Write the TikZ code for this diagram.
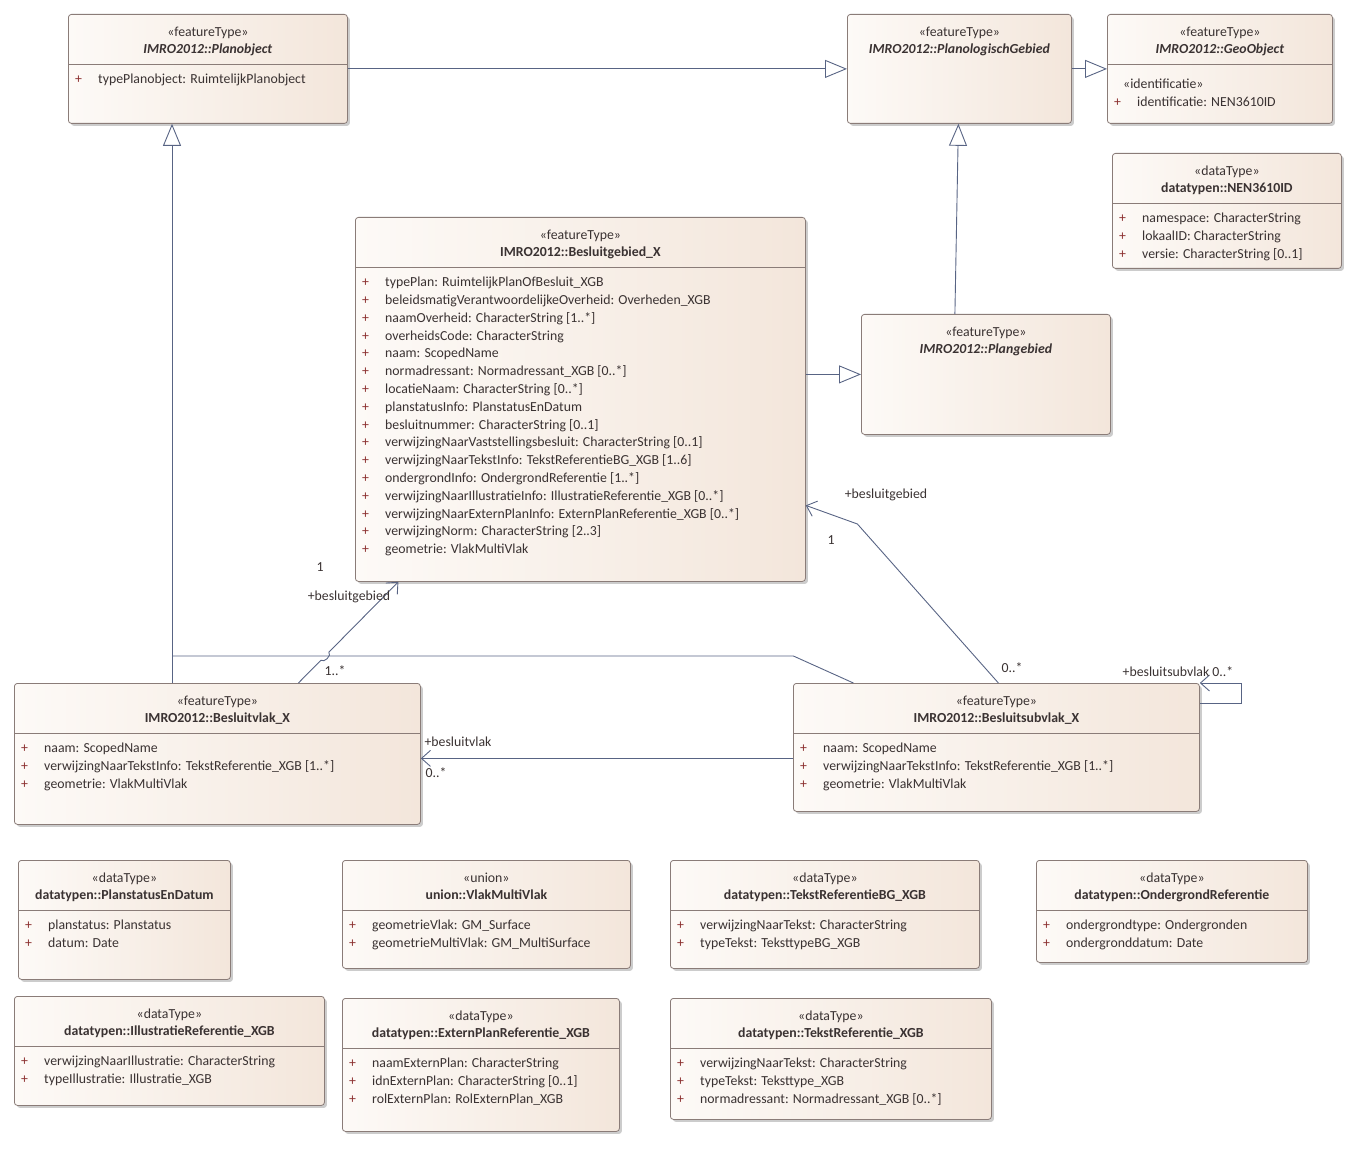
\documentclass[tikz,border=0pt]{standalone}
\usepackage{fontspec}
\usepackage{array}
\setmainfont{Carlito}
\usetikzlibrary{arrows.meta,shadows,calc}

\definecolor{umlborder}{RGB}{138,124,120}
\definecolor{umlfillA}{RGB}{253,250,247}
\definecolor{umlfillB}{RGB}{243,230,219}
\definecolor{umlline}{RGB}{88,100,132}
\definecolor{umltext}{RGB}{58,50,50}
\definecolor{umlplus}{RGB}{140,48,48}

\tikzset{
  umlbox/.style={draw=umlborder, line width=0.8pt, rounded corners=3pt, inner sep=0pt,
    anchor=north west, left color=umlfillA, right color=umlfillB,
    drop shadow={shadow xshift=2.5pt, shadow yshift=-2.5pt, fill=black!40, opacity=0.5}},
  umltitle/.style={anchor=north, inner sep=0pt, text=umltext},
  umlattr/.style={anchor=north west, inner sep=0pt, text=umltext},
  umlgen/.style={draw=umlline, line width=0.9pt, -{Triangle[open,length=22pt,width=18pt,fill=white]}},
  umlassoc/.style={draw=umlline, line width=0.9pt, -{Straight Barb[length=9pt,width=16pt]}},
  umlplain/.style={draw=umlline, line width=0.9pt},
  umllabel/.style={inner sep=0pt, text=umltext},
}

\newcommand\umlclass[7]{%
  \node[umlbox, minimum width=#3pt, minimum height=#4pt] (#1) at (#2) {};
  \node[umltitle] (#1-title) at ([yshift=-9.5pt]#1.north)
    {\begin{tabular}{@{}c@{}}«#5»\\ \textbf{#6}\end{tabular}};
  \def\umlattrs{#7}%
  \ifx\umlattrs\empty\else
    \draw[umlborder, line width=0.8pt] ([yshift=-50pt]#1.north west) -- ([yshift=-50pt]#1.north east);
    \node[umlattr] (#1-attrs) at ([xshift=7pt,yshift=-57pt]#1.north west)
      {\begin{tabular}{@{}>{\color{umlplus}}w{l}{23pt}@{}l@{}}#7\end{tabular}};
  \fi
}

\begin{document}
\begin{tikzpicture}[x=1pt, y=-1pt, font=\fontsize{13.8}{17.8}\selectfont]
  \useasboundingbox (0,0) rectangle (1360,1174);

  \umlclass{planobject}{68,14}{279}{109}{featureType}{\textit{IMRO2012::Planobject}}
    {+ & typePlanobject: RuimtelijkPlanobject}
  \umlclass{planologisch}{847,14}{224}{109}{featureType}{\textit{IMRO2012::PlanologischGebied}}{}
  \umlclass{geoobject}{1107,14}{225}{109}{featureType}{\textit{IMRO2012::GeoObject}}
    {\noalign{\vskip5pt}\multicolumn{2}{@{\hspace{9pt}}l@{}}{«identificatie»}\\
     + & identificatie: NEN3610ID}
  \umlclass{nen3610id}{1112,153}{229}{115}{dataType}{datatypen::NEN3610ID}
    {+ & namespace: CharacterString\\
     + & lokaalID: CharacterString\\
     + & versie: CharacterString [0..1]}
  \umlclass{besluitgebied}{355,217}{450}{364}{featureType}{IMRO2012::Besluitgebied\_X}
    {+ & typePlan: RuimtelijkPlanOfBesluit\_XGB\\
     + & beleidsmatigVerantwoordelijkeOverheid: Overheden\_XGB\\
     + & naamOverheid: CharacterString [1..*]\\
     + & overheidsCode: CharacterString\\
     + & naam: ScopedName\\
     + & normadressant: Normadressant\_XGB [0..*]\\
     + & locatieNaam: CharacterString [0..*]\\
     + & planstatusInfo: PlanstatusEnDatum\\
     + & besluitnummer: CharacterString [0..1]\\
     + & verwijzingNaarVaststellingsbesluit: CharacterString [0..1]\\
     + & verwijzingNaarTekstInfo: TekstReferentieBG\_XGB [1..6]\\
     + & ondergrondInfo: OndergrondReferentie [1..*]\\
     + & verwijzingNaarIllustratieInfo: IllustratieReferentie\_XGB [0..*]\\
     + & verwijzingNaarExternPlanInfo: ExternPlanReferentie\_XGB [0..*]\\
     + & verwijzingNorm: CharacterString [2..3]\\
     + & geometrie: VlakMultiVlak}
  \umlclass{plangebied}{861,314}{249}{120}{featureType}{\textit{IMRO2012::Plangebied}}{}
  \umlclass{besluitvlak}{14,683}{406}{141}{featureType}{IMRO2012::Besluitvlak\_X}
    {+ & naam: ScopedName\\
     + & verwijzingNaarTekstInfo: TekstReferentie\_XGB [1..*]\\
     + & geometrie: VlakMultiVlak}
  \umlclass{besluitsubvlak}{793,683}{406}{128}{featureType}{IMRO2012::Besluitsubvlak\_X}
    {+ & naam: ScopedName\\
     + & verwijzingNaarTekstInfo: TekstReferentie\_XGB [1..*]\\
     + & geometrie: VlakMultiVlak}
  \umlclass{planstatus}{18,860}{212}{119}{dataType}{datatypen::PlanstatusEnDatum}
    {+ & planstatus: Planstatus\\
     + & datum: Date}
  \umlclass{vlakmultivlak}{342,860}{288}{108}{union}{union::VlakMultiVlak}
    {+ & geometrieVlak: GM\_Surface\\
     + & geometrieMultiVlak: GM\_MultiSurface}
  \umlclass{tekstrefbg}{670,860}{309}{108}{dataType}{datatypen::TekstReferentieBG\_XGB}
    {+ & verwijzingNaarTekst: CharacterString\\
     + & typeTekst: TeksttypeBG\_XGB}
  \umlclass{ondergrondref}{1036,860}{271}{102}{dataType}{datatypen::OndergrondReferentie}
    {+ & ondergrondtype: Ondergronden\\
     + & ondergronddatum: Date}
  \umlclass{illustratieref}{14,996}{310}{109}{dataType}{datatypen::IllustratieReferentie\_XGB}
    {+ & verwijzingNaarIllustratie: CharacterString\\
     + & typeIllustratie: Illustratie\_XGB}
  \umlclass{externplanref}{342,998}{277}{133}{dataType}{datatypen::ExternPlanReferentie\_XGB}
    {+ & naamExternPlan: CharacterString\\
     + & idnExternPlan: CharacterString [0..1]\\
     + & rolExternPlan: RolExternPlan\_XGB}
  \umlclass{tekstref}{670,998}{321}{121}{dataType}{datatypen::TekstReferentie\_XGB}
    {+ & verwijzingNaarTekst: CharacterString\\
     + & typeTekst: Teksttype\_XGB\\
     + & normadressant: Normadressant\_XGB [0..*]}

  \draw[umlgen] (planobject) -- (planologisch);
  \draw[umlgen] (planologisch) -- (geoobject);
  \draw[umlgen] ([xshift=-31pt]plangebied.north) -- ([xshift=-1pt]planologisch.south);
  \draw[umlgen] (besluitgebied.east |- plangebied.west) -- (plangebied.west);

  \coordinate (fork) at (172,656);
  \draw[umlgen] (besluitvlak.north -| fork) -- (planobject.south -| fork);
  \draw[umlplain] ([xshift=-143pt]besluitsubvlak.north) -- ++(-60,-27) -- (fork);

  \coordinate (vlakend) at ([xshift=81pt]besluitvlak.north);
  \coordinate (gebiedend) at ([xshift=-182pt]besluitgebied.south);
  \draw[umlassoc] (vlakend) -- ($(vlakend)!0.225!(gebiedend)$)
    to[bend right=90] ($(vlakend)!0.305!(gebiedend)$) -- (gebiedend);
  \draw[umlassoc] ([xshift=2pt]besluitsubvlak.north) -- ++(-141,-159)
    -- ([yshift=-106pt]besluitgebied.east);
  \draw[umlassoc] ([yshift=-11pt]besluitsubvlak.west)
    -- ([yshift=-11pt]besluitsubvlak.west -| besluitvlak.east);
  \draw[umlassoc] ([yshift=-20pt]besluitsubvlak.north east) -- ++(42,0) -- ++(0,-20)
    -- (besluitsubvlak.north east);

  \node[umllabel] (mult-gebied-a) at (320,567) {1};
  \node[umllabel] (role-gebied-a) at (349,597) {+besluitgebied};
  \node[umllabel] (mult-vlak) at (335,671) {1..*};
  \node[umllabel] (role-gebied-b) at (886,495) {+besluitgebied};
  \node[umllabel] (mult-gebied-b) at (831,540) {1};
  \node[umllabel] (mult-subvlak) at (1012,668) {0..*};
  \node[umllabel] (role-vlak) at (458,742) {+besluitvlak};
  \node[umllabel] (mult-vlak-b) at (436,773) {0..*};
  \node[umllabel] (role-subvlak) at (1178,672) {+besluitsubvlak 0..*};
\end{tikzpicture}
\end{document}
